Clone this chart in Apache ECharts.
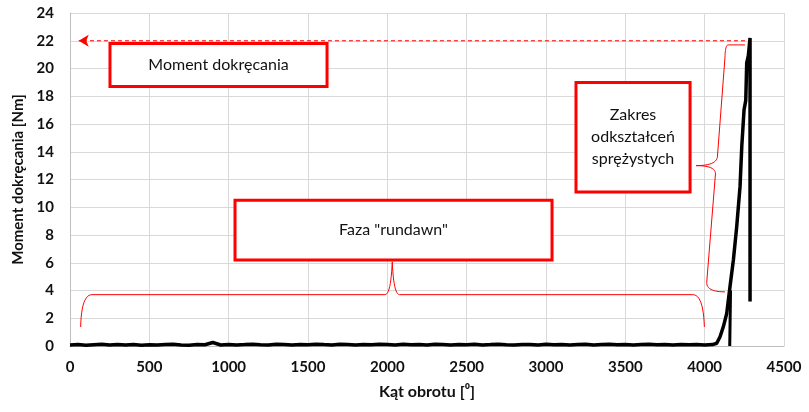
<!DOCTYPE html>
<html>
<head>
<meta charset="utf-8">
<script src="https://cdn.jsdelivr.net/npm/echarts@6/dist/echarts.min.js"></script>
<style>
  html, body { margin: 0; padding: 0; background: #fff; }
  #chart { width: 809px; height: 412px; }
</style>
</head>
<body>
<div id="chart"></div>
<script>
// kąt obrotu co 50 stopni, faza rundawn (szum przy zerze)
var noiseValues = [
  0.08, 0.1, 0.06, 0.09, 0.12, 0.07, 0.1, 0.08, 0.11, 0.06,
  0.09, 0.07, 0.1, 0.12, 0.08, 0.06, 0.1, 0.09, 0.25, 0.07,
  0.11, 0.08, 0.1, 0.13, 0.09, 0.07, 0.12, 0.1, 0.08, 0.11,
  0.09, 0.13, 0.1, 0.08, 0.12, 0.1, 0.07, 0.11, 0.09, 0.12,
  0.1, 0.08, 0.13, 0.09, 0.11, 0.07, 0.12, 0.1, 0.08, 0.11,
  0.09, 0.12, 0.08, 0.1, 0.13, 0.09, 0.07, 0.11, 0.1, 0.08,
  0.12, 0.09, 0.11, 0.07, 0.1, 0.13, 0.08, 0.1, 0.12, 0.09,
  0.11, 0.08, 0.1, 0.12, 0.09, 0.1, 0.07, 0.11, 0.09, 0.1,
  0.08, 0.1
];
var noiseStep = 50;

// narastanie momentu
var riseAngles = [4076, 4097, 4118, 4139, 4160, 4181, 4202, 4223, 4234, 4248, 4259, 4265, 4275, 4286, 4286];
var riseValues = [0.2, 0.67, 1.4, 2.35, 4.3, 6.2, 8.6, 11.5, 14.4, 17.0, 17.7, 20.4, 20.9, 22.2, 3.2];

// krótki odcinek przy 4160
var kinkAngles = [4158, 4163];
var kinkValues = [0, 4.0];

// strzałka momentu dokręcania
var arrowAngles = [4254, 55];
var maxTorque = 22;

var xTicks = { min: 0, max: 4500, interval: 500 };
var yTicks = { min: 0, max: 24, interval: 2 };

var mainData = [];
noiseValues.forEach(function (v, i) { mainData.push([i * noiseStep, v]); });
riseAngles.forEach(function (a, i) { mainData.push([a, riseValues[i]]); });
var kinkData = kinkAngles.map(function (a, i) { return [a, kinkValues[i]]; });
var arrowData = [
  { value: [arrowAngles[0], maxTorque], symbol: 'none' },
  { value: [arrowAngles[1], maxTorque], symbol: 'arrow', symbolRotate: 90, symbolSize: [9, 10] }
];

var FONT = 'Lato';
var RED = '#ff0000';

var chart = echarts.init(document.getElementById('chart'));
chart.setOption({
  animation: false,
  grid: { left: 70, right: 25, top: 13, bottom: 66 },
  xAxis: {
    type: 'value',
    min: xTicks.min, max: xTicks.max, interval: xTicks.interval,
    name: 'Kąt obrotu [⁰]',
    nameLocation: 'middle',
    nameGap: 38,
    nameTextStyle: { fontFamily: FONT, fontWeight: 'bold', fontSize: 16, color: '#111' },
    axisLine: { lineStyle: { color: '#bfbfbf' } },
    axisTick: { show: false },
    splitLine: { show: true, lineStyle: { color: '#d9d9d9' } },
    axisLabel: {
      fontFamily: FONT, fontWeight: 'bold', fontSize: 15, color: '#111', margin: 14,
      formatter: function (v) { return String(v); }
    }
  },
  yAxis: {
    type: 'value',
    min: yTicks.min, max: yTicks.max, interval: yTicks.interval,
    name: 'Moment dokręcania [Nm]',
    nameLocation: 'middle',
    nameGap: 38,
    nameTextStyle: { fontFamily: FONT, fontWeight: 'bold', fontSize: 15, color: '#111' },
    axisLine: { show: true, lineStyle: { color: '#bfbfbf' } },
    axisTick: { show: false },
    splitLine: { lineStyle: { color: '#d9d9d9' } },
    axisLabel: { fontFamily: FONT, fontWeight: 'bold', fontSize: 15, color: '#111', margin: 16 }
  },
  series: [
    {
      type: 'line',
      data: arrowData,
      showSymbol: true,
      silent: true,
      itemStyle: { color: RED },
      lineStyle: { color: RED, type: [4, 3], width: 1 },
      z: 1
    },
    {
      type: 'line',
      data: mainData,
      symbol: 'none',
      lineStyle: { color: '#000', width: 3.5 },
      z: 3
    },
    {
      type: 'line',
      data: kinkData,
      symbol: 'none',
      lineStyle: { color: '#000', width: 3 },
      z: 3
    }
  ]
});

// adnotacje (współrzędne w jednostkach osi)
function px(p) { return chart.convertToPixel({ gridIndex: 0 }, p); }

function box(x0, y0, x1, y1, lines) {
  var a = px([x0, y0]), b = px([x1, y1]);
  var els = [{
    type: 'rect',
    shape: { x: a[0], y: a[1], width: b[0] - a[0], height: b[1] - a[1] },
    style: { fill: '#fff', stroke: RED, lineWidth: 3 },
    z: 10
  }];
  var cx = (a[0] + b[0]) / 2, cy = (a[1] + b[1]) / 2, lh = 22;
  lines.forEach(function (t, i) {
    els.push({
      type: 'text',
      x: cx, y: cy + (i - (lines.length - 1) / 2) * lh,
      style: { text: t, fill: '#111', font: '16px ' + FONT, align: 'center', verticalAlign: 'middle' },
      z: 11
    });
  });
  return els;
}

// klamra: L = odcinek, Q = krzywa kwadratowa (próbkowana do łamanej)
function brace(start, segs) {
  var cur = px(start);
  var pts = [cur];
  segs.forEach(function (sg) {
    if (sg[0] === 'L') {
      cur = px(sg[1]);
      pts.push(cur);
    } else {
      var c = px(sg[1]), e = px(sg[2]), p0 = cur;
      for (var k = 1; k <= 12; k++) {
        var t = k / 12, u = 1 - t;
        pts.push([
          u * u * p0[0] + 2 * u * t * c[0] + t * t * e[0],
          u * u * p0[1] + 2 * u * t * c[1] + t * t * e[1]
        ]);
      }
      cur = e;
    }
  });
  return {
    type: 'polyline',
    shape: { points: pts },
    style: { fill: null, stroke: RED, lineWidth: 1 },
    z: 9
  };
}

var graphics = [];
graphics.push(brace([67, 1.37], [
  ['Q', [72, 3.7], [139, 3.7]],
  ['L', [1985, 3.7]],
  ['Q', [2022, 3.7], [2031, 6.07]],
  ['Q', [2040, 3.7], [2077, 3.7]],
  ['L', [3925, 3.7]],
  ['Q', [3992, 3.7], [3998, 1.37]]
]));
graphics.push(brace([4254, 21.7], [
  ['L', [4148, 21.7]],
  ['Q', [4130, 21.7], [4128, 20.8]],
  ['L', [4080, 13.6]],
  ['Q', [4070, 13.0], [3946, 13.0]],
  ['Q', [4070, 13.0], [4068, 12.4]],
  ['L', [4013, 4.6]],
  ['Q', [4010, 3.9], [4128, 3.9]]
]));
graphics = graphics.concat(box(252, 21.8, 1620, 18.7, ['Moment dokręcania']));
graphics = graphics.concat(box(1040, 10.5, 3038, 6.2, ['Faza "rundawn"']));
graphics = graphics.concat(box(3189, 19.0, 3908, 11.1, ['Zakres', 'odkształceń', 'sprężystych']));

chart.setOption({ graphic: graphics });
</script>
</body>
</html>
